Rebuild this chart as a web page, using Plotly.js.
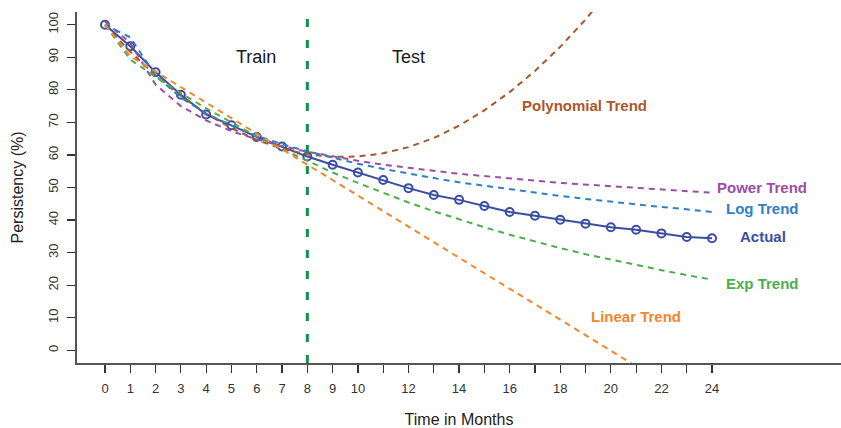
<!DOCTYPE html>
<html>
<head>
<meta charset="utf-8">
<script src="https://cdn.plot.ly/plotly-3.0.1.min.js"></script>
<style>
  html, body { margin: 0; padding: 0; background: #ffffff; }
  #chart { width: 841px; height: 428px; }
</style>
</head>
<body>
<div id="chart"></div>
<script>
// ---- Data ----
const months = [0, 1, 2, 3, 4, 5, 6, 7, 8, 9, 10, 11, 12, 13, 14, 15, 16, 17, 18, 19, 20, 21, 22, 23, 24];
const monthTickLabels = ['0', '1', '2', '3', '4', '5', '6', '7', '8', '9', '10', '', '12', '', '14', '', '16', '', '18', '', '20', '', '22', '', '24'];
const yTicks = [0, 10, 20, 30, 40, 50, 60, 70, 80, 90, 100];

const actual = [100, 93.4, 85.4, 78.5, 72.4, 69.1, 65.5, 62.6, 59.5, 57.0, 54.6, 52.3, 49.8, 47.7, 46.2, 44.3, 42.5, 41.3, 40.1, 38.9, 37.8, 37.0, 35.9, 34.8, 34.4];
const polyTrend = [99.9, 91.7, 84.4, 78.1, 72.7, 68.2, 64.6, 61.9, 60.2, 59.4, 59.5, 60.5, 62.4, 65.2, 69.0, 73.7, 79.3, 85.8, 93.2, 101.6, 110.9];
const powerTrend = [101.0, 94.4, 81.6, 75.0, 70.6, 67.3, 64.8, 62.7, 61.0, 59.5, 58.2, 57.0, 56.0, 55.1, 54.2, 53.5, 52.7, 52.1, 51.4, 50.9, 50.3, 49.8, 49.3, 48.9, 48.4];
const logTrend = [100.0, 96.1, 84.4, 77.6, 72.7, 69.0, 65.9, 63.3, 61.1, 59.1, 57.3, 55.7, 54.2, 52.9, 51.6, 50.5, 49.4, 48.3, 47.4, 46.5, 45.6, 44.8, 44.0, 43.3, 42.5];
const expTrend = [100.0, 89.3, 84.0, 79.0, 74.3, 69.9, 65.7, 61.8, 58.1, 54.6, 51.4, 48.3, 45.4, 42.7, 40.2, 37.8, 35.5, 33.4, 31.4, 29.5, 27.8, 26.1, 24.6, 23.1, 21.7];
const linearTrend = [100.0, 90.3, 85.6, 80.8, 76.1, 71.3, 66.5, 61.8, 57.0, 52.3, 47.5, 42.7, 38.0, 33.2, 28.5, 23.7, 18.9, 14.2, 9.4, 4.7, -0.1, -4.9];
const splitMonth = 8;

// ---- Styles ----
const C = {
  actual: '#3a4ea3',
  poly: '#a9572b',
  power: '#9a4fa5',
  log: '#2f80c2',
  exp: '#4cae4c',
  linear: '#f2862e',
  split: '#10924a'
};
const dashPat = '6px,5px';

function trend(y, color, name) {
  return {
    type: 'scatter', mode: 'lines', name: name,
    x: months.slice(0, y.length), y: y,
    line: { color: color, width: 2, dash: dashPat },
    hoverinfo: 'x+y'
  };
}

const traces = [
  {
    type: 'scatter', mode: 'lines+markers', name: 'Actual',
    x: months, y: actual,
    line: { color: C.actual, width: 2 },
    marker: { symbol: 'circle-open', size: 8, color: C.actual, line: { width: 2 } }
  },
  trend(polyTrend, C.poly, 'Polynomial Trend'),
  trend(powerTrend, C.power, 'Power Trend'),
  trend(logTrend, C.log, 'Log Trend'),
  trend(expTrend, C.exp, 'Exp Trend'),
  trend(linearTrend, C.linear, 'Linear Trend')
];

const labelFont = (color) => ({ family: 'Liberation Sans, Arial, sans-serif', size: 15, color: color });

const annotations = [
  { x: 18.97, y: 75.3, text: '<b>Polynomial Trend</b>', font: labelFont(C.poly) },
  { x: 25.96, y: 50.1, text: '<b>Power Trend</b>', font: labelFont(C.power) },
  { x: 26.0, y: 43.4, text: '<b>Log Trend</b>', font: labelFont(C.log) },
  { x: 26.03, y: 35.1, text: '<b>Actual</b>', font: labelFont(C.actual) },
  { x: 26.0, y: 20.6, text: '<b>Exp Trend</b>', font: labelFont(C.exp) },
  { x: 20.99, y: 10.3, text: '<b>Linear Trend</b>', font: labelFont(C.linear) },
  { x: 5.97, y: 90.0, text: 'Train', font: { family: 'Liberation Sans, Arial, sans-serif', size: 18, color: '#1a1a1a' } },
  { x: 11.98, y: 90.0, text: 'Test', font: { family: 'Liberation Sans, Arial, sans-serif', size: 18, color: '#1a1a1a' } }
].map(a => Object.assign({ xref: 'x', yref: 'y', showarrow: false, xanchor: 'center', yanchor: 'middle' }, a));

const layout = {
  width: 841, height: 428,
  margin: { l: 77, r: 0, t: 12, b: 65 },
  paper_bgcolor: '#ffffff', plot_bgcolor: '#ffffff',
  showlegend: false,
  font: { family: 'Liberation Sans, Arial, sans-serif', color: '#333333' },
  xaxis: {
    range: [-1.107, 29.1],
    tickmode: 'array', tickvals: months, ticktext: monthTickLabels,
    ticks: 'outside', ticklen: 8, tickwidth: 1.2, tickcolor: '#333333',
    ticklabelstandoff: 5,
    showline: true, linecolor: '#555555', linewidth: 1.6,
    showgrid: false, zeroline: false,
    tickfont: { size: 13, color: '#333333' },
    title: { text: 'Time in Months', font: { size: 16, color: '#222222' }, standoff: 20 }
  },
  yaxis: {
    range: [-3.9, 103.9],
    tickmode: 'array', tickvals: yTicks,
    ticks: 'outside', ticklen: 8, tickwidth: 1.2, tickcolor: '#333333',
    ticklabelstandoff: 4,
    tickangle: -90,
    showline: true, linecolor: '#555555', linewidth: 1.6,
    showgrid: false, zeroline: false,
    tickfont: { size: 13, color: '#333333' },
    title: { text: 'Persistency (%)', font: { size: 16, color: '#222222' }, standoff: 18 }
  },
  shapes: [
    { type: 'line', xref: 'x', yref: 'paper', x0: splitMonth, x1: splitMonth, y0: 0, y1: 1,
      line: { color: C.split, width: 3, dash: '8px,13px' } }
  ],
  annotations: annotations
};

Plotly.newPlot('chart', traces, layout, { displayModeBar: false, staticPlot: true });
</script>
</body>
</html>
